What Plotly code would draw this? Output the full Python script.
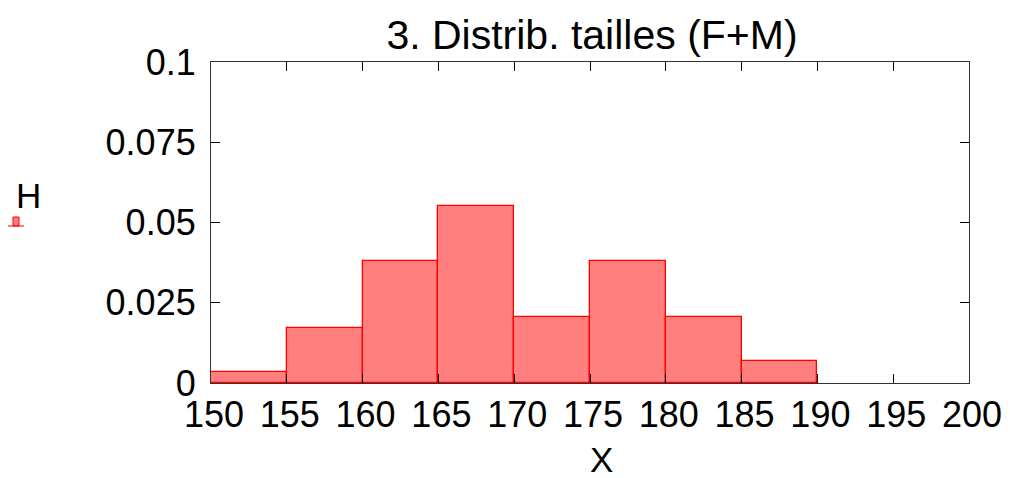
import plotly.graph_objects as go

bin_edges = [150, 155, 160, 165, 170, 175, 180, 185, 190]
densities = [0.0035, 0.0172, 0.0379, 0.0552, 0.0207, 0.0379, 0.0207, 0.0069]
x_ticks = [150, 155, 160, 165, 170, 175, 180, 185, 190, 195, 200]
y_ticks = [0, 0.025, 0.05, 0.075, 0.1]
y_tick_labels = ["0", "0.025", "0.05", "0.075", "0.1"]
series_name = "H"
title_text = "3. Distrib. tailles (F+M)"
x_title = "X"

centers = [(a + b) / 2 for a, b in zip(bin_edges[:-1], bin_edges[1:])]
widths = [b - a for a, b in zip(bin_edges[:-1], bin_edges[1:])]

FONT = "Liberation Sans, Arial, sans-serif"
# page has an 8px body margin; plot area in the page: x 211..969, y 62..383
OFF = 8
W, H = 1010, 478
PL, PR, PT, PB = 211, 969, 62, 383
pw, ph = PR - PL, PB - PT

fig = go.Figure()
fig.add_trace(go.Bar(
    x=centers, y=densities, width=widths, name=series_name,
    marker=dict(color="rgba(255,0,0,0.5)", line=dict(color="#ff0000", width=1.3)),
    showlegend=False,
))

axis_common = dict(
    showgrid=False, zeroline=False, showline=True, mirror="allticks",
    linecolor="#333333", linewidth=1.2, ticks="inside", ticklen=9,
    tickcolor="#000000", tickwidth=1.2,
    tickfont=dict(family=FONT, size=36, color="#000000"),
)

fig.update_layout(
    width=W, height=H,
    margin=dict(l=PL - OFF, r=W + OFF - PR, t=PT - OFF, b=H + OFF - PB),
    paper_bgcolor="white", plot_bgcolor="white",
    bargap=0,
    title=dict(text=title_text, x=(592 - OFF) / W, xanchor="center",
               y=1 - (35 - OFF) / H, yanchor="middle",
               font=dict(family=FONT, size=41, color="#000000")),
    xaxis=dict(range=[150, 200], tickvals=x_ticks, ticktext=[str(v) for v in x_ticks],
               ticklabelshift=3, **axis_common),
    yaxis=dict(range=[0, 0.1], tickvals=y_ticks, ticktext=y_tick_labels,
               ticklabelstandoff=7, **axis_common),
)

# x-axis title, slightly right of centre as in the reference
fig.add_annotation(xref="paper", yref="paper", x=(601 - PL) / pw, y=(PB - 459) / ph,
                   text=x_title, showarrow=False, xanchor="center", yanchor="middle",
                   font=dict(family=FONT, size=35, color="#000000"))

# legend drawn manually (label above sample), as in the reference
fig.add_annotation(xref="paper", yref="paper", x=(28 - PL) / pw, y=(PB - 195) / ph,
                   text=series_name, showarrow=False, xanchor="center", yanchor="middle",
                   font=dict(family=FONT, size=35, color="#000000"))
fig.add_shape(type="rect", xref="paper", yref="paper",
              x0=(13 - PL) / pw, x1=(19 - PL) / pw, y0=(PB - 226) / ph, y1=(PB - 217) / ph,
              fillcolor="rgba(255,0,0,0.5)", line=dict(color="#ff0000", width=1))
fig.add_shape(type="line", xref="paper", yref="paper",
              x0=(8 - PL) / pw, x1=(24 - PL) / pw, y0=(PB - 226) / ph, y1=(PB - 226) / ph,
              line=dict(color="#ff0000", width=1))

fig.write_html("out.html")
